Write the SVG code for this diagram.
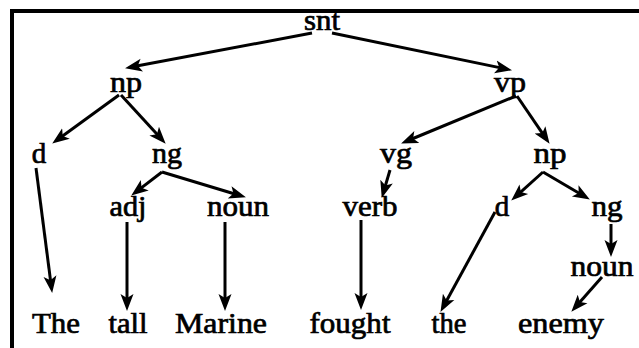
<svg xmlns="http://www.w3.org/2000/svg" width="639" height="348" viewBox="0 0 639 348">
<style>
text{font-family:"Liberation Serif","Times New Roman",serif;font-size:29px;fill:#000;stroke:#000;stroke-width:0.7;text-anchor:middle}
.c line{stroke:#000;stroke-width:3;marker-end:url(#ah)}
</style>
<defs>
<marker id="ah" markerUnits="userSpaceOnUse" viewBox="0 -8 18 16" markerWidth="18" markerHeight="16" refX="8" refY="0" orient="auto">
<path d="M0,-6.5 L17,0 L0,6.5 L4,0 Z" fill="#000"/>
</marker>
</defs>
<rect width="639" height="348" fill="#fff"/>
<path d="M12,348 V11 H639" fill="none" stroke="#000" stroke-width="4"/>
<g class="c" id="connectors">
<line x1="312" y1="33" x2="133.9" y2="66.5"/>
<line x1="332" y1="33" x2="503.2" y2="68.4"/>
<line x1="119" y1="95" x2="59.5" y2="138.3"/>
<line x1="121" y1="95" x2="159.6" y2="137.1"/>
<line x1="516" y1="96" x2="409.4" y2="140"/>
<line x1="517" y1="96" x2="544.5" y2="136.4"/>
<line x1="36" y1="168" x2="51" y2="284.1"/>
<line x1="162" y1="172" x2="138.4" y2="190.1"/>
<line x1="162" y1="172" x2="237.3" y2="194.7"/>
<line x1="127" y1="222" x2="127" y2="302"/>
<line x1="225" y1="222" x2="225" y2="302"/>
<line x1="390" y1="170" x2="384.3" y2="189.3"/>
<line x1="361" y1="220" x2="361" y2="301"/>
<line x1="543" y1="172" x2="517.9" y2="194.6"/>
<line x1="543" y1="172" x2="582.1" y2="195"/>
<line x1="495" y1="212" x2="444.8" y2="304"/>
<line x1="611" y1="224" x2="611" y2="248"/>
<line x1="602" y1="277" x2="577.3" y2="305"/>
</g>
<g id="snt"><text x="322" y="30" textLength="36" lengthAdjust="spacingAndGlyphs">snt</text></g>
<g id="np1"><text x="126" y="92" textLength="32" lengthAdjust="spacingAndGlyphs">np</text></g>
<g id="vp"><text x="510" y="92" textLength="32" lengthAdjust="spacingAndGlyphs">vp</text></g>
<g id="d1"><text x="39" y="163">d</text></g>
<g id="ng1"><text x="167" y="163" textLength="30" lengthAdjust="spacingAndGlyphs">ng</text></g>
<g id="vg"><text x="396" y="163" textLength="32" lengthAdjust="spacingAndGlyphs">vg</text></g>
<g id="np2"><text x="550" y="163" textLength="33" lengthAdjust="spacingAndGlyphs">np</text></g>
<g id="adj"><text x="128" y="216" textLength="37" lengthAdjust="spacingAndGlyphs">adj</text></g>
<g id="noun1"><text x="238" y="216" textLength="62" lengthAdjust="spacingAndGlyphs">noun</text></g>
<g id="verb"><text x="370" y="216" textLength="55" lengthAdjust="spacingAndGlyphs">verb</text></g>
<g id="d2"><text x="502" y="216">d</text></g>
<g id="ng2"><text x="607" y="216" textLength="31" lengthAdjust="spacingAndGlyphs">ng</text></g>
<g id="noun2"><text x="602" y="276" textLength="63" lengthAdjust="spacingAndGlyphs">noun</text></g>
<g id="w-the1"><text x="56" y="333" textLength="48" lengthAdjust="spacingAndGlyphs">The</text></g>
<g id="w-tall"><text x="128" y="333" textLength="39" lengthAdjust="spacingAndGlyphs">tall</text></g>
<g id="w-marine"><text x="221" y="333" textLength="92" lengthAdjust="spacingAndGlyphs">Marine</text></g>
<g id="w-fought"><text x="350" y="333" textLength="81" lengthAdjust="spacingAndGlyphs">fought</text></g>
<g id="w-the2"><text x="449" y="333" textLength="35" lengthAdjust="spacingAndGlyphs">the</text></g>
<g id="w-enemy"><text x="561" y="333" textLength="86" lengthAdjust="spacingAndGlyphs">enemy</text></g>
</svg>
